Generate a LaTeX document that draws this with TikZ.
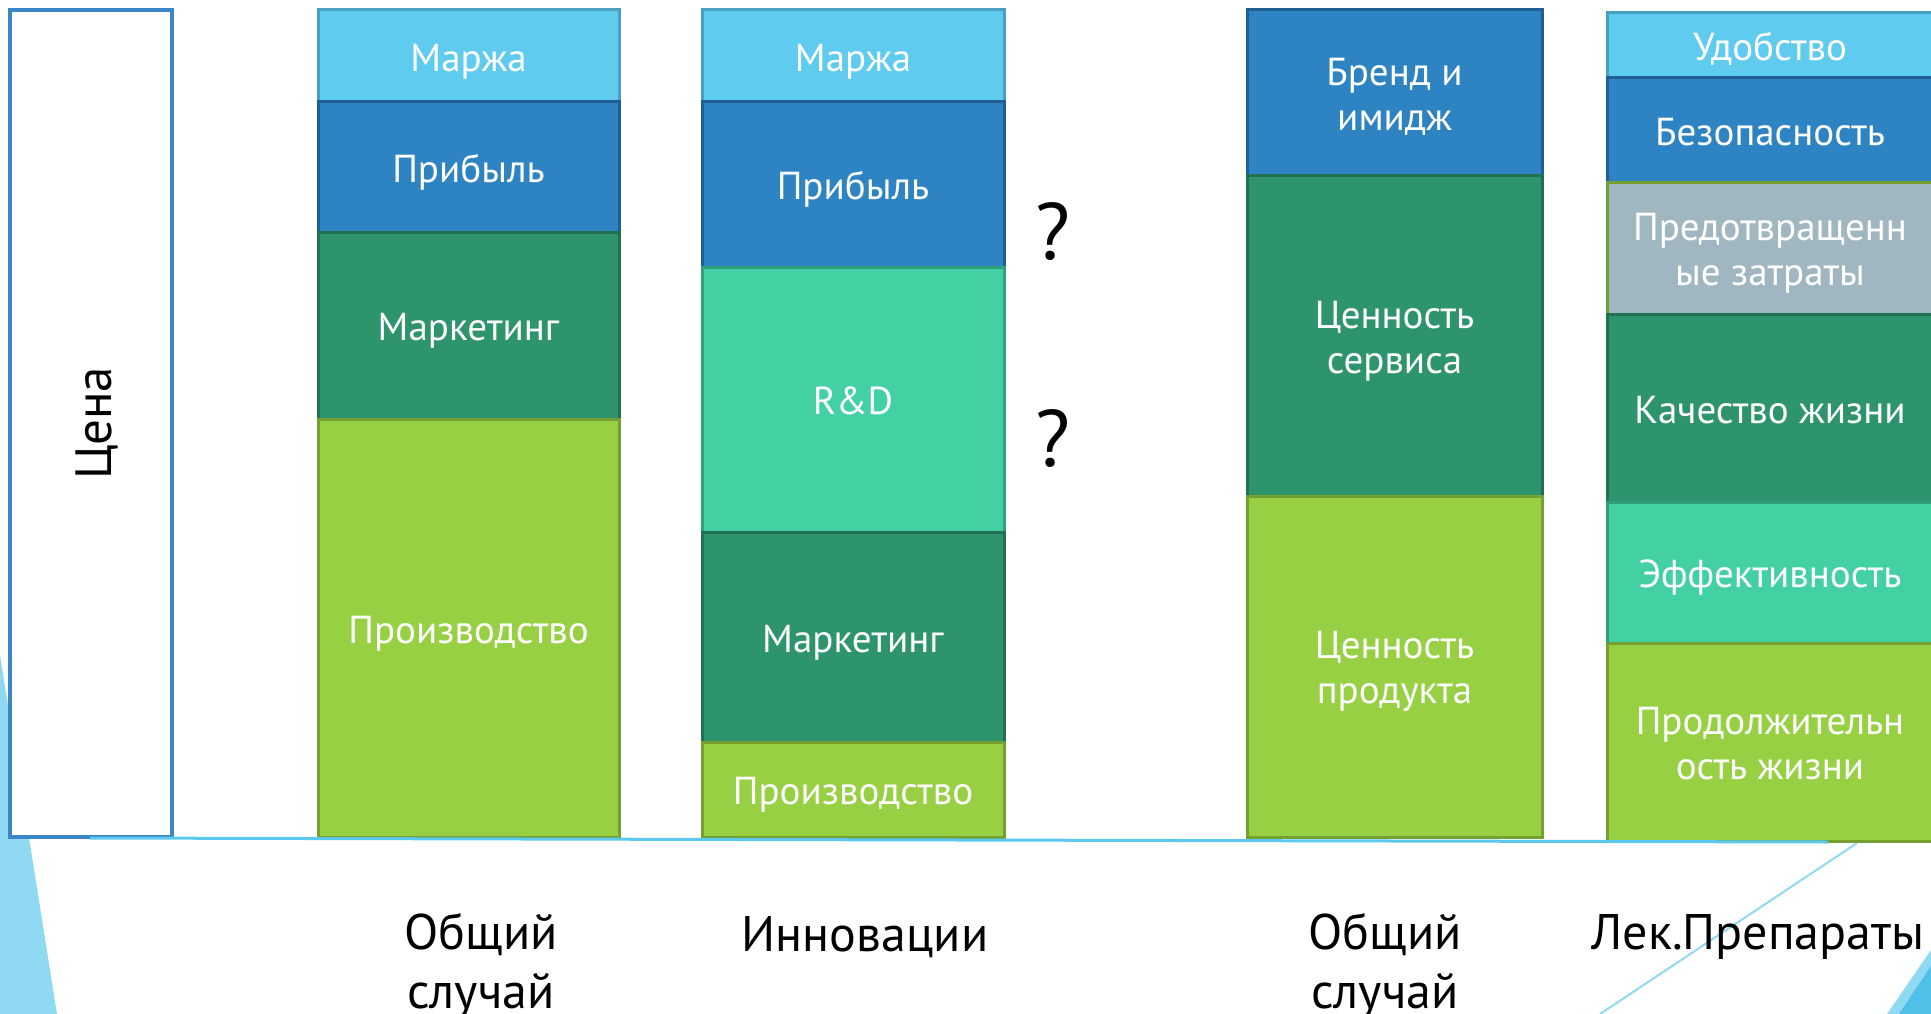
\documentclass[tikz,border=0pt]{standalone}
\usepackage{fontspec}
\setmainfont{PT Sans}
\usetikzlibrary{positioning}

\definecolor{skyblue}{HTML}{5ECBEF}
\definecolor{skyedge}{HTML}{4A9FC0}
\definecolor{midblue}{HTML}{2E83C3}
\definecolor{midedge}{HTML}{1F5F95}
\definecolor{darkgreen}{HTML}{2E946D}
\definecolor{darkedge}{HTML}{22704F}
\definecolor{lightgreen}{HTML}{97D143}
\definecolor{lightedge}{HTML}{73A030}
\definecolor{rdgreen}{HTML}{43D0A2}
\definecolor{rdedge}{HTML}{2EA07A}
\definecolor{greyblue}{HTML}{A0B6C0}
\definecolor{frameblue}{HTML}{3A87C8}
\definecolor{deco}{HTML}{8FDAF2}
\definecolor{decodark}{HTML}{4FC0E8}
\definecolor{baseblue}{HTML}{5BC8EE}

\newcommand\segstrut{\rule[-0.18em]{0pt}{1.15em}}
\newcommand\lowered[1]{\raisebox{-5pt}[\height][\depth]{#1}}

\begin{document}
\begin{tikzpicture}[x=1pt,y=-1pt,
		seg/.style={draw,line width=3pt,text=white,inner sep=0pt,outer sep=0pt,
			align=center,font=\fontsize{39}{45}\selectfont,
			execute at begin node=\segstrut,execute at end node=\segstrut},
		marzha/.style={seg,fill=skyblue,draw=skyedge},
		pribyl/.style={seg,fill=midblue,draw=midedge},
		market/.style={seg,fill=darkgreen,draw=darkedge},
		proizv/.style={seg,fill=lightgreen,draw=lightedge},
		rnd/.style={seg,fill=rdgreen,draw=rdedge},
		saved/.style={seg,fill=greyblue,draw=lightedge},
		caption/.style={align=center,font=\fontsize{50}{59}\selectfont},
		quest/.style={font=\fontsize{80}{84}\selectfont}]
		
		\useasboundingbox (0,0) rectangle (1931,1014);
		
		% decorations of the slide
		\fill[deco] (0,655) -- (57,1014) -- (0,1014) -- cycle;
		\fill[deco] (1887,1014) -- (1931,950) -- (1931,1014) -- cycle;
		\fill[decodark] (1899,1014) -- (1931,966) -- (1931,1014) -- cycle;
		\draw[deco,line width=2pt] (1600,1014) -- (1857,843);
		
		% price
		\node[draw=frameblue,line width=3.5pt,fill=white,minimum width=162pt,
			minimum height=827pt] (price) at (91,423.5) {};
		\node[rotate=90,font=\fontsize{51}{60}\selectfont] (pricetext) at (97,423.5) {Цена};
		
		% general case
		\node[marzha,minimum width=301pt,minimum height=92pt] (m1) at (468.5,56) {Маржа};
		\node[pribyl,minimum width=301pt,minimum height=130pt,below=0pt of m1] (p1) {Прибыль};
		\node[market,minimum width=301pt,minimum height=187pt,below=0pt of p1] (k1) {Маркетинг};
		\node[proizv,minimum width=301pt,minimum height=418pt,below=0pt of k1] (v1) {Производство};
		
		% innovations
		\node[marzha,minimum width=302pt,minimum height=92pt] (m2) at (853,56) {Маржа};
		\node[pribyl,minimum width=302pt,minimum height=165pt,below=0pt of m2] (p2) {Прибыль};
		\node[rnd,minimum width=302pt,minimum height=265pt,below=0pt of p2] (r2) {R\&D};
		\node[market,minimum width=302pt,minimum height=210pt,below=0pt of r2] (k2) {Маркетинг};
		\node[proizv,minimum width=302pt,minimum height=95pt,below=0pt of k2] (v2) {Производство};
		
		\node[quest] (q1) at (1053,231) {?};
		\node[quest] (q2) at (1053,438) {?};
		
		% value, general case
		\node[pribyl,minimum width=295pt,minimum height=166pt] (b3) at (1394.5,93) {\lowered{Бренд и}\\\lowered{имидж}};
		\node[market,minimum width=295pt,minimum height=320pt,below=0pt of b3] (s3) {\lowered{Ценность}\\\lowered{сервиса}};
		\node[proizv,minimum width=295pt,minimum height=341pt,below=0pt of s3] (t3) {\lowered{Ценность}\\\lowered{продукта}};
		
		% value, drugs
		\node[marzha,minimum width=326pt,minimum height=65pt] (u4) at (1770,45.5) {Удобство};
		\node[pribyl,minimum width=326pt,minimum height=105pt,below=0pt of u4] (z4) {Безопасность};
		\node[saved,minimum width=326pt,minimum height=131pt,below=0pt of z4] (d4) {\lowered{Предотвращенн}\\\lowered{ые затраты}};
		\node[market,minimum width=326pt,minimum height=188pt,below=0pt of d4] (l4) {Качество жизни};
		\node[rnd,minimum width=326pt,minimum height=141pt,below=0pt of l4] (e4) {Эффективность};
		\node[proizv,minimum width=326pt,minimum height=198pt,below=0pt of e4] (w4) {\lowered{Продолжительн}\\\lowered{ость жизни}};
		
		\draw[baseblue,line width=3pt] (90,838) -- (1828,842);
		
		% captions
		\node[caption] (c1) at (481,966) {Общий\\случай};
		\node[caption] (c2) at (865,937) {Инновации};
		\node[caption] (c3) at (1385,966) {Общий\\случай};
		\node[caption] (c4) at (1758,937) {Лек.Препараты};
		
\end{tikzpicture}
\end{document}
